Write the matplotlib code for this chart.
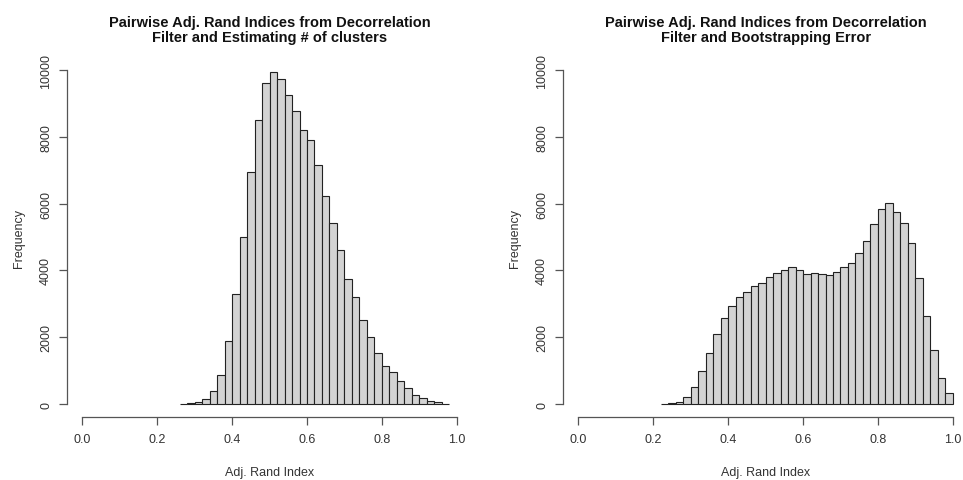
import numpy as np
import matplotlib
matplotlib.use("Agg")
import matplotlib.pyplot as plt

plt.rcParams['font.family'] = ['Liberation Sans', 'DejaVu Sans']

# Данные: гистограммы (ширина бина 0.02)
bin_width = 0.02
left_start = 0.26
left_counts = [10, 20, 50, 140, 380, 870, 1900, 3290, 5010, 6950,
               8510, 9610, 9950, 9730, 9260, 8760, 8200, 7920, 7170, 6220,
               5410, 4600, 3750, 3200, 2510, 2000, 1540, 1150, 950, 680,
               470, 280, 190, 90, 50, 10]
right_start = 0.22
right_counts = [15, 30, 60, 200, 520, 1000, 1530, 2110, 2590, 2930,
                3210, 3340, 3530, 3620, 3790, 3920, 4020, 4090, 4020, 3890,
                3920, 3880, 3860, 3950, 4100, 4210, 4520, 4870, 5390, 5830,
                6020, 5760, 5420, 4810, 3780, 2650, 1620, 780, 340]

titles = ['Pairwise Adj. Rand Indices from Decorrelation\nFilter and Estimating # of clusters',
          'Pairwise Adj. Rand Indices from Decorrelation\nFilter and Bootstrapping Error']
x_ticks = [0.0, 0.2, 0.4, 0.6, 0.8, 1.0]
y_ticks = [0, 2000, 4000, 6000, 8000, 10000]

fig = plt.figure(figsize=(9.63, 4.81), dpi=100)
axes = [fig.add_axes([0.0699, 0.1301, 0.42, 0.750]),
        fig.add_axes([0.5850, 0.1301, 0.42, 0.750])]

axis_col = '#555555'
text_col = '#333333'

for ax, start, counts, title in zip(axes, [left_start, right_start],
                                    [left_counts, right_counts], titles):
    edges = np.round(start + bin_width * np.arange(len(counts)), 2)
    ax.bar(edges, counts, width=bin_width, align='edge', color='#d3d3d3',
           edgecolor='#222222', linewidth=0.8)
    ax.set_xlim(-0.04, 1.04)
    ax.set_ylim(-400, 10400)
    for s in ['top', 'right']:
        ax.spines[s].set_visible(False)
    ax.spines['left'].set_bounds(0, 10000)
    ax.spines['bottom'].set_bounds(0, 1)
    for s in ['left', 'bottom']:
        ax.spines[s].set_color(axis_col)
        ax.spines[s].set_linewidth(0.9)
    ax.set_xticks(x_ticks)
    ax.set_xticklabels([f'{v:.1f}' for v in x_ticks])
    ax.set_yticks(y_ticks)
    ax.set_yticklabels([str(v) for v in y_ticks], rotation=90, va='center')
    ax.tick_params(length=6, width=0.9, color=axis_col, labelcolor=text_col,
                   labelsize=9, pad=5)
    ax.set_xlabel('Adj. Rand Index', fontsize=9, color=text_col, labelpad=15)
    ax.set_ylabel('Frequency', fontsize=9, color=text_col, labelpad=11)
    ax.set_title(title, fontsize=10.5, fontweight='bold', color='#111111',
                 pad=11, linespacing=1.1)

plt.savefig('out.png', dpi=100)
